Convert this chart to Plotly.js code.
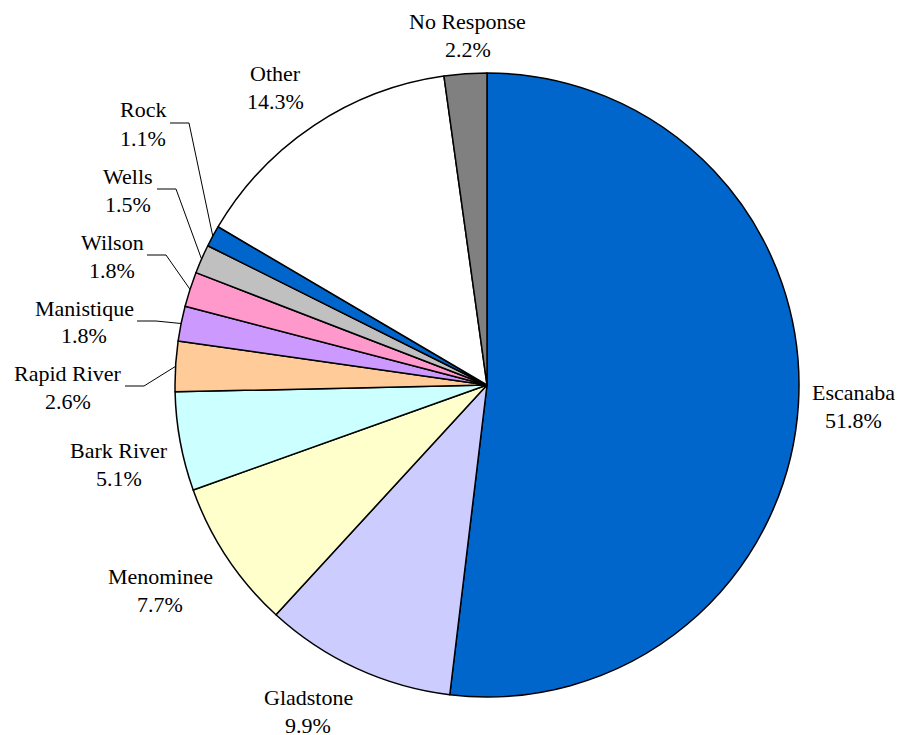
<!DOCTYPE html>
<html>
<head>
<meta charset="utf-8">
<script src="https://cdn.plot.ly/plotly-3.0.1.min.js"></script>
<style>
#chart .annotation-text, #chart .annotation-text tspan { font-family: 'Liberation Serif', 'Times New Roman', serif !important; }
</style>
</head>
<body style="margin:0;background:#fff">
<div id="chart" style="width:898px;height:735px"></div>
<script>
// ---- data ----
const categories = ["Escanaba","Gladstone","Menominee","Bark River","Rapid River","Manistique","Wilson","Wells","Rock","Other","No Response"];
const percents   = [51.8, 9.9, 7.7, 5.1, 2.6, 1.8, 1.8, 1.5, 1.1, 14.3, 2.2];
const colors     = ["#0066CC","#CCCCFF","#FFFFCC","#CCFFFF","#FFCC99","#CC99FF","#FF99CC","#C0C0C0","#0066CC","#FFFFFF","#808080"];

// ---- layout (label placement in pixels) ----
const W = 898, H = 735;
const cx = 487, cy = 385, R = 312;
const labelFont = {family:"Liberation Serif", size:22};
const lineGap = 14;
// label block centers
const labelCenter = {
  "Escanaba":[853,406], "Gladstone":[308,711], "Menominee":[160,590],
  "Bark River":[119,464], "Other":[275,87], "No Response":[468,36],
  "Rock":[143,124], "Wells":[128,190], "Wilson":[112,256], "Manistique":[84,322], "Rapid River":[68,387]
};
// leader lines: [left end of horizontal segment, y]
const leaderEnd = {
  "Rock":[170,123], "Wells":[157,189], "Wilson":[147,255], "Manistique":[137,321], "Rapid River":[125,386]
};
const elbowLen = 19;

const px2x = p => p / W, py2y = p => 1 - p / H;

function draw() {
  const total = percents.reduce((a,b)=>a+b,0);
  const annotations = [], shapes = [];
  let cum = 0;
  categories.forEach((c,i)=>{
    const mid = (cum + percents[i]/2) / total;
    cum += percents[i];
    const th = mid * 2 * Math.PI;
    const sx = cx + R*Math.sin(th), sy = cy - R*Math.cos(th);
    if (leaderEnd[c]) {
      const [ex, ey] = leaderEnd[c];
      shapes.push({type:"path", xref:"paper", yref:"paper",
        path:"M " + px2x(ex) + " " + py2y(ey) + " L " + px2x(ex+elbowLen) + " " + py2y(ey) + " L " + px2x(sx) + " " + py2y(sy),
        line:{color:"#000", width:1}});
    }
    const [lx, ly] = labelCenter[c];
    annotations.push({xref:"paper", yref:"paper", x:px2x(lx), y:py2y(ly-lineGap), xanchor:"center", yanchor:"middle",
      text:c, showarrow:false, font:labelFont});
    annotations.push({xref:"paper", yref:"paper", x:px2x(lx), y:py2y(ly+lineGap), xanchor:"center", yanchor:"middle",
      text:percents[i].toFixed(1) + "%", showarrow:false, font:labelFont});
  });

  const trace = {
    type:"pie", labels:categories, values:percents, sort:false, direction:"clockwise", rotation:0,
    marker:{colors:colors, line:{color:"#000", width:1.5}},
    textinfo:"none", hoverinfo:"label+percent", showlegend:false,
    domain:{x:[px2x(cx-R), px2x(cx+R)], y:[py2y(cy+R), py2y(cy-R)]}
  };

  const layout = {
    width:W, height:H, margin:{l:0,r:0,t:0,b:0},
    paper_bgcolor:"#fff", plot_bgcolor:"#fff",
    font:{family:"Liberation Serif", size:22, color:"#000"},
    annotations:annotations, shapes:shapes, showlegend:false
  };
  Plotly.newPlot("chart", [trace], layout, {displayModeBar:false, staticPlot:true});
}

let drawn = false;
function go(){ if(!drawn){ drawn = true; draw(); } }
if (document.fonts && document.fonts.load) {
  document.fonts.load('22px "Liberation Serif"').then(go, go);
  setTimeout(go, 800);
} else { go(); }
</script>
</body>
</html>
